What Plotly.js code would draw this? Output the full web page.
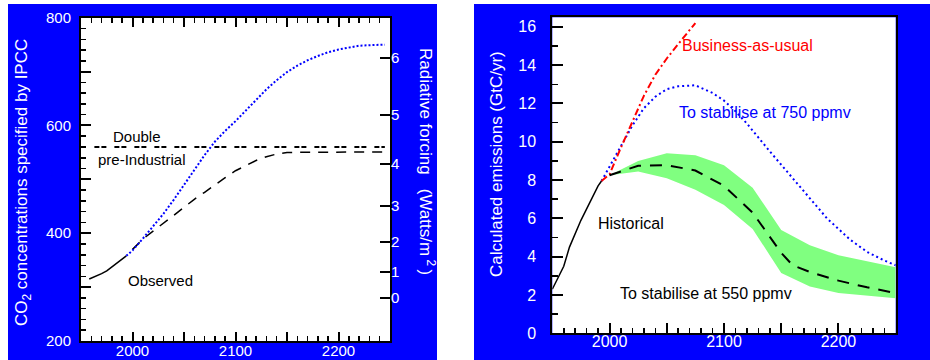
<!DOCTYPE html>
<html>
<head>
<meta charset="utf-8">
<script src="https://cdn.plot.ly/plotly-3.0.1.min.js"></script>
<style>html,body{margin:0;padding:0;background:#fff;}#chart{width:930px;height:360px;}</style>
</head>
<body>
<div id="chart"></div>
<script>
// ---------- Left panel: CO2 concentrations (ppmv) ----------
const obsYears = [1958, 1965, 1970, 1975, 1980, 1985, 1990, 1994];
const obsConc  = [315, 320, 325, 330, 337, 344, 351, 358];

const conc750Years = [1994, 2000, 2010, 2020, 2030, 2040, 2050, 2060, 2070, 2080, 2090, 2100, 2110, 2120, 2130, 2140, 2150, 2160, 2170, 2180, 2190, 2200, 2210, 2220, 2230, 2245];
const conc750      = [358, 368, 390, 413, 436, 462, 490, 519, 545, 570, 590, 608, 628, 648, 667, 684, 699, 711, 721, 729, 736, 741, 745, 748, 749, 750];

const conc550Years = [2000, 2010, 2020, 2030, 2040, 2050, 2060, 2070, 2080, 2090, 2100, 2110, 2120, 2130, 2140, 2150, 2245];
const conc550      = [370, 389, 404, 418, 433, 448, 463, 476, 490, 503, 516, 526, 535, 542, 547, 550, 551];

const doubleYears = [1963, 2245];
const doubleConc  = [560, 560];

const concTickVals = [200, 300, 400, 500, 600, 700, 800];
const concTickText = ['200', '', '400', '', '600', '', '800'];
// Radiative forcing tick positions (ppmv at which forcing = 0..6 W/m2)
const forcingTickVals = [280, 328.2, 384.6, 450.8, 528.3, 619.2, 725.7];
const forcingTickText = ['0', '1', '2', '3', '4', '5', '6'];

// ---------- Right panel: emissions (GtC/yr) ----------
const histYears = [1950, 1955, 1960, 1965, 1970, 1975, 1980, 1985, 1990, 1993];
const histEmis  = [2.3, 2.9, 3.5, 4.5, 5.2, 5.9, 6.5, 7.1, 7.7, 7.95];

const bauYears = [1993, 2000, 2010, 2020, 2030, 2040, 2050, 2060, 2070, 2075];
const bauEmis  = [7.95, 8.3, 9.7, 11.05, 12.4, 13.5, 14.35, 15.1, 15.8, 16.2];

const emis750Years = [1993, 2000, 2010, 2020, 2030, 2040, 2050, 2060, 2075, 2090, 2100, 2110, 2120, 2130, 2140, 2150, 2160, 2175, 2190, 2200, 2210, 2225, 2240, 2250];
const emis750      = [7.95, 8.7, 9.8, 10.85, 11.75, 12.35, 12.75, 12.9, 12.95, 12.55, 12.15, 11.6, 10.95, 10.2, 9.5, 8.8, 8.1, 7.0, 6.0, 5.45, 4.9, 4.25, 3.8, 3.55];

const bandYears = [2000, 2025, 2050, 2075, 2100, 2125, 2150, 2175, 2200, 2225, 2250];
const bandUpper = [8.25, 9.0, 9.4, 9.3, 8.77, 7.6, 5.4, 4.6, 4.08, 3.75, 3.45];
const bandLower = [8.25, 8.45, 8.1, 7.5, 6.7, 5.45, 3.15, 2.45, 2.1, 1.95, 1.83];

const emis550Years = [2000, 2025, 2050, 2075, 2100, 2125, 2150, 2160, 2175, 2200, 2225, 2250];
const emis550      = [8.25, 8.75, 8.78, 8.5, 7.7, 6.3, 4.2, 3.55, 3.2, 2.75, 2.4, 2.1];

const yearTickVals = [1950, 2000, 2050, 2100, 2150, 2200, 2250];
const yearTickText = ['', '2000', '', '2100', '', '2200', ''];
const emisTickVals = [0, 2, 4, 6, 8, 10, 12, 14, 16];
const emisTickText = ['0', '2', '4', '6', '8', '10', '12', '14', '16'];

// ---------- Drawing ----------
const FONT = 'Liberation Sans, Arial, Helvetica, sans-serif';
const W = 930, H = 360;
const px = v => v / W;
const py = v => 1 - v / H;
const BLUE = '#0000ff';

const traces = [
  {x: obsYears, y: obsConc, xaxis: 'x', yaxis: 'y', mode: 'lines', line: {color: 'black', width: 1.5}},
  {x: conc550Years, y: conc550, xaxis: 'x', yaxis: 'y', mode: 'lines', line: {color: 'black', width: 1.5, dash: '10px,8px'}},
  {x: conc750Years, y: conc750, xaxis: 'x', yaxis: 'y', mode: 'lines', line: {color: BLUE, width: 2, dash: '2px,2px'}},
  {x: doubleYears, y: doubleConc, xaxis: 'x', yaxis: 'y', mode: 'lines', line: {color: 'black', width: 2, dash: '5px,2px,5px,8px'}},
  // carriers so that the secondary / minor-tick axes are drawn (no visible marks)
  {x: doubleYears, y: doubleConc, xaxis: 'x', yaxis: 'y2', mode: 'none', hoverinfo: 'skip'},
  {x: doubleYears, y: doubleConc, xaxis: 'x3', yaxis: 'y', mode: 'none', hoverinfo: 'skip'},
  {x: doubleYears, y: doubleConc, xaxis: 'x', yaxis: 'y4', mode: 'none', hoverinfo: 'skip'},

  {x: bandYears.concat(bandYears.slice().reverse()), y: bandUpper.concat(bandLower.slice().reverse()),
   xaxis: 'x2', yaxis: 'y3', mode: 'lines', fill: 'toself', fillcolor: '#80ff80', line: {width: 0, color: '#80ff80'}},
  {x: histYears, y: histEmis, xaxis: 'x2', yaxis: 'y3', mode: 'lines', line: {color: 'black', width: 1.5}},
  {x: emis750Years, y: emis750, xaxis: 'x2', yaxis: 'y3', mode: 'lines', line: {color: BLUE, width: 2, dash: '2px,3px'}},
  {x: bauYears, y: bauEmis, xaxis: 'x2', yaxis: 'y3', mode: 'lines', line: {color: '#ff0000', width: 2, dash: '7px,3px,2px,3px'}},
  {x: emis550Years, y: emis550, xaxis: 'x2', yaxis: 'y3', mode: 'lines', line: {color: 'black', width: 2, dash: '12px,9px'}},
  {x: bandYears, y: bandUpper, xaxis: 'x4', yaxis: 'y3', mode: 'none', hoverinfo: 'skip'},
  {x: bandYears, y: bandUpper, xaxis: 'x2', yaxis: 'y5', mode: 'none', hoverinfo: 'skip'}
];

const tickFontL = {family: FONT, size: 15, color: 'white'};
const tickFontR = {family: FONT, size: 16, color: 'white'};
const base = {showgrid: false, zeroline: false, ticks: 'inside', tickcolor: 'black', tickwidth: 2, fixedrange: true};
const frame = Object.assign({}, base, {showline: true, linecolor: 'black', linewidth: 2});
const minorAx = Object.assign({}, base, {showline: false, showticklabels: false, tickmode: 'linear', tickwidth: 1.5});

const layout = {
  width: W, height: H,
  margin: {l: 0, r: 0, t: 0, b: 0, pad: 0},
  paper_bgcolor: BLUE, plot_bgcolor: 'white',
  showlegend: false,
  // left panel
  xaxis: Object.assign({}, frame, {
    domain: [px(81), px(390)], anchor: 'y', range: [1950, 2250],
    tickmode: 'array', tickvals: yearTickVals, ticktext: yearTickText, ticklen: 9,
    mirror: 'ticks', tickfont: tickFontL, ticklabelstandoff: -5
  }),
  xaxis3: Object.assign({}, minorAx, {overlaying: 'x', anchor: 'y', range: [1950, 2250], tick0: 1950, dtick: 10, ticklen: 5, mirror: 'ticks'}),
  yaxis: Object.assign({}, frame, {
    domain: [1 - 341 / H, 1 - 17.7 / H], anchor: 'x', range: [200, 800],
    tickmode: 'array', tickvals: concTickVals, ticktext: concTickText, ticklen: 10,
    mirror: true, tickfont: tickFontL, ticklabelstandoff: 5
  }),
  yaxis4: Object.assign({}, minorAx, {overlaying: 'y', anchor: 'x', side: 'left', range: [200, 800], tick0: 200, dtick: 20, ticklen: 5}),
  yaxis2: Object.assign({}, base, {
    overlaying: 'y', side: 'right', anchor: 'x', range: [200, 800], showline: false,
    tickmode: 'array', tickvals: forcingTickVals, ticktext: forcingTickText, ticklen: 10,
    tickfont: tickFontL
  }),
  // right panel
  xaxis2: Object.assign({}, frame, {
    domain: [px(552.3), px(895.7)], anchor: 'y3', range: [1950, 2250],
    tickmode: 'array', tickvals: yearTickVals, ticktext: yearTickText, ticklen: 10,
    mirror: true, tickfont: tickFontR, ticklabelstandoff: -8
  }),
  xaxis4: Object.assign({}, minorAx, {overlaying: 'x2', anchor: 'y3', range: [1950, 2250], tick0: 1950, dtick: 10, ticklen: 5}),
  yaxis3: Object.assign({}, frame, {
    domain: [1 - 333.3 / H, 1 - 17.3 / H], anchor: 'x2', range: [0, 16.5],
    tickmode: 'array', tickvals: emisTickVals, ticktext: emisTickText, ticklen: 11,
    mirror: true, tickfont: tickFontR, ticklabelstandoff: 11
  }),
  yaxis5: Object.assign({}, minorAx, {overlaying: 'y3', anchor: 'x2', side: 'left', range: [0, 16.5], tick0: 0, dtick: 1, ticklen: 6}),
  shapes: [
    // white gaps around the two blue panels
    {type: 'rect', xref: 'paper', yref: 'paper', x0: 0, x1: px(8), y0: 0, y1: 1, fillcolor: 'white', line: {width: 0}, layer: 'below'},
    {type: 'rect', xref: 'paper', yref: 'paper', x0: px(437), x1: px(474), y0: 0, y1: 1, fillcolor: 'white', line: {width: 0}, layer: 'below'},
    {type: 'rect', xref: 'paper', yref: 'paper', x0: 0, x1: 1, y0: py(4), y1: 1, fillcolor: 'white', line: {width: 0}, layer: 'below'}
  ],
  annotations: [
    {text: 'CO<sub>2</sub> concentrations specified by IPCC', xref: 'paper', yref: 'paper', x: px(23), y: py(183), textangle: -90,
     showarrow: false, xanchor: 'center', yanchor: 'middle', font: {family: FONT, size: 17, color: 'white'}},
    {text: 'Radiative forcing\u00A0\u00A0 (Watts/m<sup> 2 </sup>)', xref: 'paper', yref: 'paper', x: px(427), y: py(161), textangle: 90,
     showarrow: false, xanchor: 'center', yanchor: 'middle', font: {family: FONT, size: 17, color: 'white'}},
    {text: 'Calculated emissions (GtC/yr)', xref: 'paper', yref: 'paper', x: px(497), y: py(164), textangle: -90,
     showarrow: false, xanchor: 'center', yanchor: 'middle', font: {family: FONT, size: 17, color: 'white'}},

    {text: 'Double', xref: 'paper', yref: 'paper', x: px(111), y: py(136), showarrow: false, xanchor: 'left', yanchor: 'middle',
     font: {family: FONT, size: 15, color: 'black'}},
    {text: 'pre-Industrial', xref: 'paper', yref: 'paper', x: px(96), y: py(159), showarrow: false, xanchor: 'left', yanchor: 'middle',
     font: {family: FONT, size: 15, color: 'black'}},
    {text: 'Observed', xref: 'paper', yref: 'paper', x: px(126), y: py(280), showarrow: false, xanchor: 'left', yanchor: 'middle',
     font: {family: FONT, size: 15, color: 'black'}},

    {text: 'Business-as-usual', xref: 'paper', yref: 'paper', x: px(680), y: py(45), showarrow: false, xanchor: 'left', yanchor: 'middle',
     font: {family: FONT, size: 16, color: '#ff0000'}},
    {text: 'To stabilise at 750 ppmv', xref: 'paper', yref: 'paper', x: px(677), y: py(112), showarrow: false, xanchor: 'left', yanchor: 'middle',
     font: {family: FONT, size: 16, color: BLUE}},
    {text: 'Historical', xref: 'paper', yref: 'paper', x: px(596), y: py(223), showarrow: false, xanchor: 'left', yanchor: 'middle',
     font: {family: FONT, size: 16, color: 'black'}},
    {text: 'To stabilise at 550 ppmv', xref: 'paper', yref: 'paper', x: px(618), y: py(293), showarrow: false, xanchor: 'left', yanchor: 'middle',
     font: {family: FONT, size: 16, color: 'black'}}
  ]
};

Plotly.newPlot('chart', traces, layout, {staticPlot: true, displayModeBar: false});
</script>
</body>
</html>
